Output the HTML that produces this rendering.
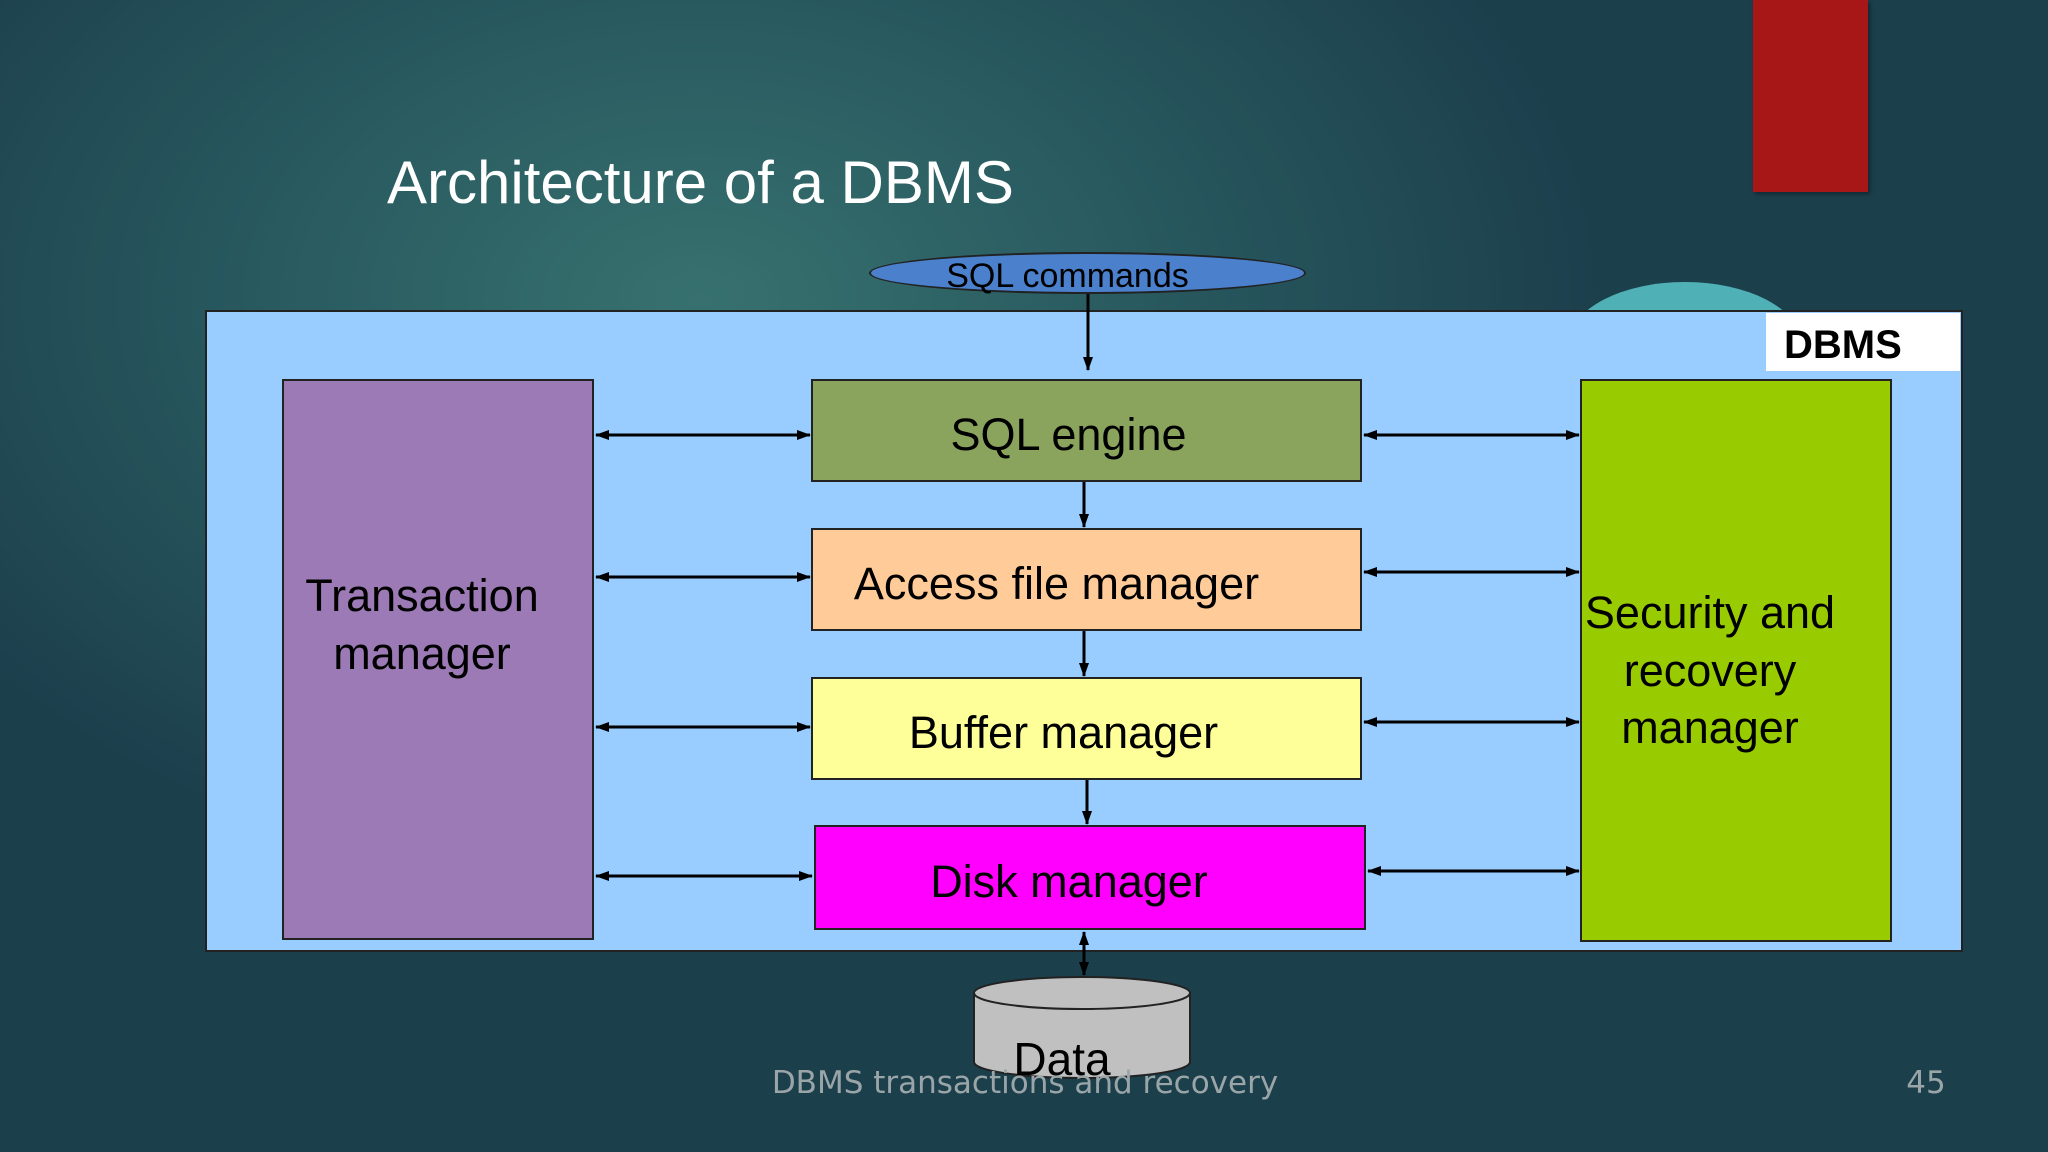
<!DOCTYPE html>
<html><head><meta charset="utf-8"><style>
html,body{margin:0;padding:0}
body{width:2048px;height:1152px;overflow:hidden;position:relative;font-family:"Liberation Sans",sans-serif;
background:radial-gradient(ellipse 900px 600px at 700px 300px,#37716f 0%,#28595f 50%,#1c3f4c 100%);}
.a{position:absolute}
.box{position:absolute;border:2px solid #222;box-sizing:border-box;display:flex;align-items:center;justify-content:center;text-align:center;color:#000;font-size:45px;line-height:1.28}
</style></head><body>
<div class="a" style="left:1753px;top:0;width:115px;height:192px;background:#a81717;box-shadow:2px 2px 4px rgba(0,0,0,.4)"></div>
<div class="a" style="left:1570px;top:282px;width:230px;height:120px;border-radius:50%;background:#4fb0b5"></div>
<div class="a" style="left:387px;top:148px;color:#fff;font-size:60px">Architecture of a DBMS</div>
<div class="a" style="left:205px;top:310px;width:1758px;height:642px;background:#99ccff;border:2px solid #222;box-sizing:border-box"></div>
<div class="a" style="left:1766px;top:313px;width:194px;height:58px;background:#fff;font-weight:bold;font-size:40px;line-height:64px;text-indent:18px">DBMS</div>
<div class="a" style="left:869px;top:252px;width:437px;height:42px;border-radius:50%;background:#4a80cc;border:2px solid #222;box-sizing:border-box;text-align:center;font-size:34px;line-height:44px;text-indent:-40px">SQL commands</div>
<div class="box" style="left:282px;top:379px;width:312px;height:561px;background:#9b7ab6;padding-bottom:70px;padding-right:32px">Transaction<br>manager</div>
<div class="box" style="left:811px;top:379px;width:551px;height:103px;background:#8aa45e;padding-right:36px;padding-top:8px">SQL engine</div>
<div class="box" style="left:811px;top:528px;width:551px;height:103px;background:#ffcc99;padding-right:60px;padding-top:8px">Access file manager</div>
<div class="box" style="left:811px;top:677px;width:551px;height:103px;background:#ffff99;padding-right:46px;padding-top:8px">Buffer manager</div>
<div class="box" style="left:814px;top:825px;width:552px;height:105px;background:#ff00ff;padding-right:42px;padding-top:8px">Disk manager</div>
<div class="box" style="left:1580px;top:379px;width:312px;height:563px;background:#99cc00;padding-top:20px;padding-right:52px">Security and<br>recovery<br>manager</div>
<svg class="a" style="left:0;top:0" width="2048" height="1152">
<defs>
<marker id="m" markerWidth="14" markerHeight="12" refX="13" refY="6" orient="auto-start-reverse" markerUnits="userSpaceOnUse"><path d="M0,1 L14,6 L0,11z" fill="#000"/></marker>
</defs>
<g stroke="#000" stroke-width="3" fill="none">
<line x1="1088" y1="294" x2="1088" y2="370" marker-end="url(#m)"/>
<line x1="1084" y1="482" x2="1084" y2="527" marker-end="url(#m)"/>
<line x1="1084" y1="631" x2="1084" y2="676" marker-end="url(#m)"/>
<line x1="1087" y1="780" x2="1087" y2="824" marker-end="url(#m)"/>
<line x1="1084" y1="932" x2="1084" y2="975" marker-start="url(#m)" marker-end="url(#m)"/>
<line x1="596" y1="435" x2="810" y2="435" marker-start="url(#m)" marker-end="url(#m)"/>
<line x1="596" y1="577" x2="810" y2="577" marker-start="url(#m)" marker-end="url(#m)"/>
<line x1="596" y1="727" x2="810" y2="727" marker-start="url(#m)" marker-end="url(#m)"/>
<line x1="596" y1="876" x2="812" y2="876" marker-start="url(#m)" marker-end="url(#m)"/>
<line x1="1364" y1="435" x2="1579" y2="435" marker-start="url(#m)" marker-end="url(#m)"/>
<line x1="1364" y1="572" x2="1579" y2="572" marker-start="url(#m)" marker-end="url(#m)"/>
<line x1="1364" y1="722" x2="1579" y2="722" marker-start="url(#m)" marker-end="url(#m)"/>
<line x1="1368" y1="871" x2="1579" y2="871" marker-start="url(#m)" marker-end="url(#m)"/>
</g>
<g stroke="#222" stroke-width="2" fill="#c0c0c0">
<path d="M974,993 L974,1062 A108,16 0 0 0 1190,1062 L1190,993"/>
<ellipse cx="1082" cy="993" rx="108" ry="16"/>
</g>
<text x="1062" y="1075" font-size="46" text-anchor="middle" font-family="Liberation Sans">Data</text>
<text x="1025" y="1093" font-size="31" text-anchor="middle" fill="#9aa5a8" font-family="DejaVu Sans">DBMS transactions and recovery</text>
<text x="1926" y="1093" font-size="31" text-anchor="middle" fill="#9aa5a8" font-family="DejaVu Sans">45</text>
</svg>
</body></html>
